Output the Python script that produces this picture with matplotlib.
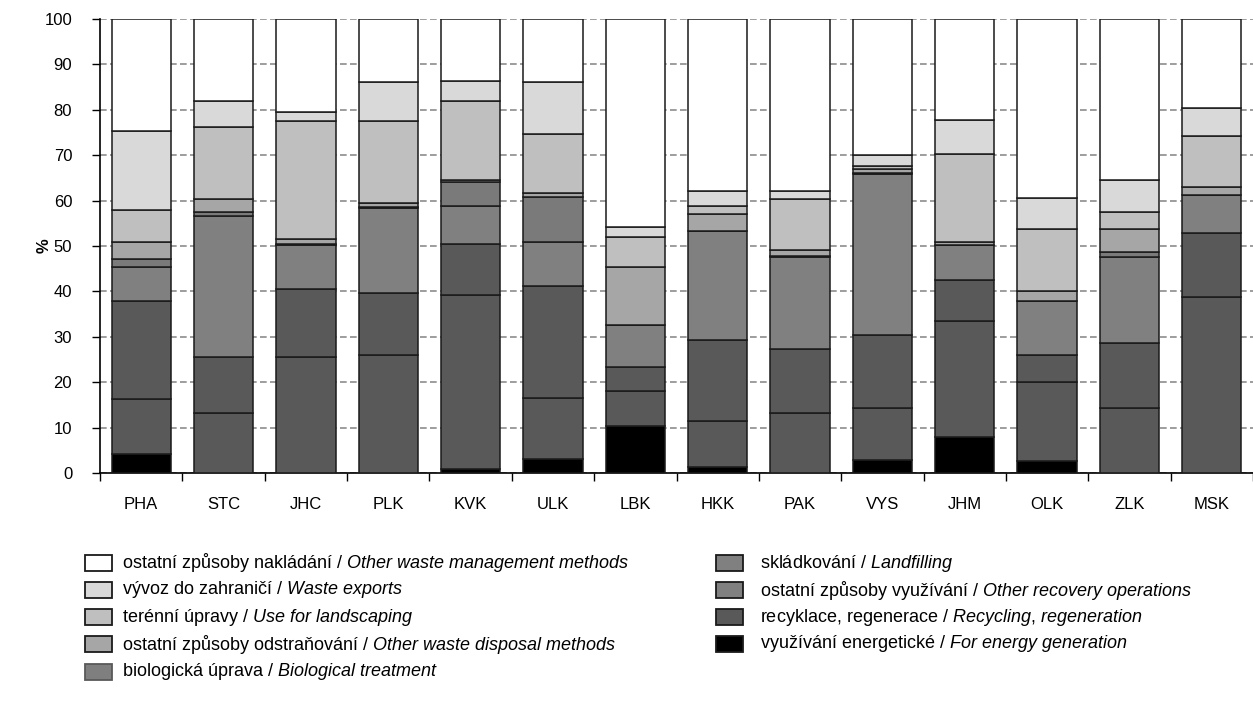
import numpy as np
import matplotlib.pyplot as plt
from matplotlib.patches import Rectangle

plt.rcParams['font.family'] = ['Liberation Sans', 'DejaVu Sans']
plt.rcParams['mathtext.fontset'] = 'custom'
plt.rcParams['mathtext.rm'] = 'Liberation Sans'
plt.rcParams['mathtext.it'] = 'Liberation Sans:italic'

regions = ['PHA', 'STC', 'JHC', 'PLK', 'KVK', 'ULK', 'LBK', 'HKK', 'PAK', 'VYS', 'JHM', 'OLK', 'ZLK', 'MSK']

# shares in %, bottom of the stack first
energy = [4.2, 0.0, 0.0, 0.0, 0.9, 3.1, 10.4, 1.3, 0.0, 2.9, 7.9, 2.6, 0.0, 0.0]
recycling = [12.1, 13.2, 25.6, 26.1, 38.3, 13.4, 7.7, 10.2, 13.2, 11.5, 25.6, 17.5, 14.4, 38.8]
other_recovery = [21.6, 12.4, 14.9, 13.5, 11.3, 24.8, 5.3, 17.8, 14.1, 16.1, 9.0, 5.9, 14.2, 14.1]
landfilling = [7.5, 31.1, 9.7, 18.8, 8.3, 9.6, 9.2, 24.0, 20.3, 35.4, 7.7, 11.9, 19.0, 8.3]
biological = [1.7, 0.8, 0.3, 0.2, 5.2, 9.9, 0.0, 0.1, 0.1, 0.1, 0.1, 0.1, 1.1, 0.1]
other_disposal = [3.7, 2.9, 1.1, 0.9, 0.6, 0.8, 12.8, 3.6, 1.4, 1.0, 0.6, 2.1, 5.0, 1.7]
landscaping = [7.1, 15.8, 25.8, 17.9, 17.3, 13.0, 6.6, 1.8, 11.2, 0.5, 19.4, 13.6, 3.8, 11.1]
exports = [17.5, 5.7, 2.1, 8.7, 4.5, 11.5, 2.2, 3.3, 1.8, 2.5, 7.5, 6.9, 7.1, 6.3]
other_mgmt = [24.6, 18.1, 20.5, 13.9, 13.6, 13.9, 45.8, 37.9, 37.9, 30.0, 22.2, 39.4, 35.4, 19.6]

series = [energy, recycling, other_recovery, landfilling, biological,
          other_disposal, landscaping, exports, other_mgmt]
bar_colors = ['#000000', '#595959', '#595959', '#808080', '#7a7a7a',
              '#a6a6a6', '#bfbfbf', '#d9d9d9', '#ffffff']

labels_cz = ['využívání energetické', 'recyklace, regenerace', 'ostatní způsoby využívání',
             'skládkování', 'biologická úprava', 'ostatní způsoby odstraňování',
             'terénní úpravy', 'vývoz do zahraničí', 'ostatní způsoby nakládání']
labels_en = ['For energy generation', 'Recycling{,} regeneration', 'Other recovery operations',
             'Landfilling', 'Biological treatment', 'Other waste disposal methods',
             'Use for landscaping', 'Waste exports', 'Other waste management methods']
legend_colors = ['#000000', '#595959', '#808080', '#808080', '#7f7f7f',
                 '#a6a6a6', '#bfbfbf', '#d9d9d9', '#ffffff']

W, H = 1253, 709
fig = plt.figure(figsize=(W / 100, H / 100), dpi=100)
ax = fig.add_axes([100 / W, 1 - 473.3 / H, 1 - 100 / W, (473.3 - 18.7) / H])

x = np.arange(len(regions))
bottom = np.zeros(len(regions))
for vals, c in zip(series, bar_colors):
    ax.bar(x, vals, width=0.72, bottom=bottom, color=c, edgecolor='#1a1a1a', linewidth=1.1, zorder=3)
    bottom += np.array(vals)

ax.set_xlim(-0.5, len(regions) - 0.5)
ax.set_ylim(0, 100)
ax.set_yticks(np.arange(0, 101, 10))
ax.yaxis.grid(True, linestyle=(0, (4, 2)), color='#8c8c8c', linewidth=1.2)
ax.set_axisbelow(True)

ax.set_xticks(x)
ax.set_xticklabels(regions)
ax.set_xticks(np.arange(-0.5, len(regions)), minor=True)
ax.tick_params(axis='x', which='major', length=0, pad=17, labelsize=12)
ax.tick_params(axis='x', which='minor', length=6, width=1, direction='out')
ax.tick_params(axis='y', length=6, width=1, direction='out', pad=14, labelsize=12)

for s in ['top', 'right']:
    ax.spines[s].set_visible(False)
ax.spines['left'].set_linewidth(1.2)
ax.spines['bottom'].set_linewidth(1.2)

ax.set_ylabel('%', fontsize=12, fontweight='bold')
ax.yaxis.set_label_coords(-48 / (W - 100), 0.5)

# legend in two columns, drawn by hand
order_col1 = [8, 7, 6, 5, 4]
order_col2 = [3, 2, 1, 0]
rows_y = [563, 590, 617, 644, 672]
for col, (order, sx, tx) in enumerate([(order_col1, 85, 122), (order_col2, 716, 760)]):
    for r, i in enumerate(order):
        yc = rows_y[r]
        edge = '#595959' if i == 4 else '#1a1a1a'
        fig.add_artist(Rectangle((sx / W, 1 - (yc + 8) / H), 27 / W, 16 / H,
                                 transform=fig.transFigure, facecolor=legend_colors[i],
                                 edgecolor=edge, linewidth=1.3))
        en = labels_en[i].replace(' ', r'\ ')
        fig.text(tx / W, 1 - yc / H, labels_cz[i] + ' / ' + r'$\mathit{' + en + '}$',
                 fontsize=13, va='center', ha='left')

fig.savefig('out.png', dpi=100)
